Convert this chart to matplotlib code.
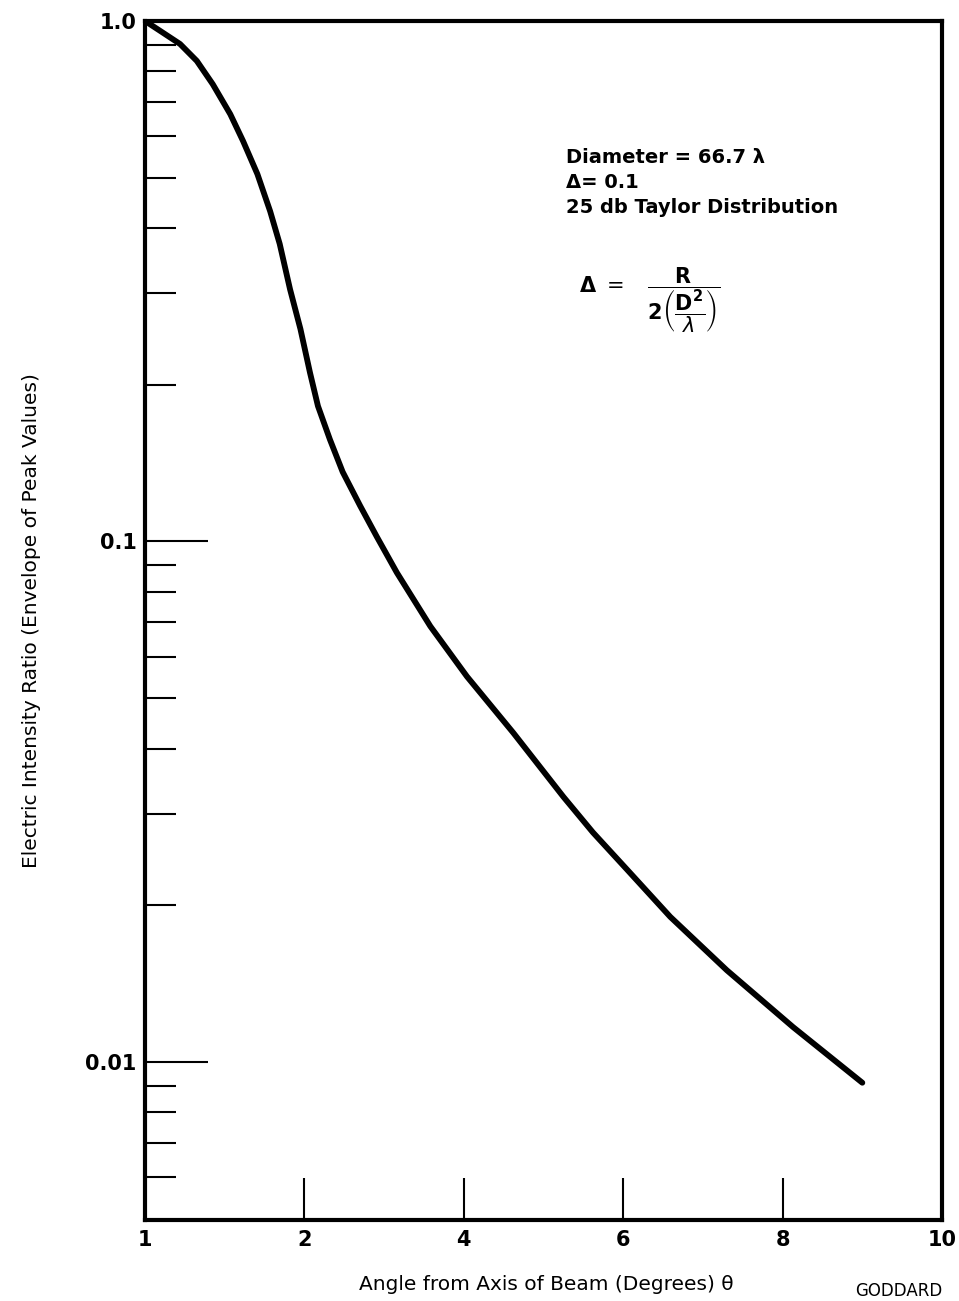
import matplotlib
matplotlib.use('Agg')
import matplotlib.pyplot as plt
from matplotlib.ticker import FixedLocator, NullFormatter

plt.rcParams['font.family'] = ['DejaVu Sans']
plt.rcParams['mathtext.fontset'] = 'dejavusans'

# curve (x in axis position units, labels below are as printed)
angle = [0.0, 0.19, 0.44, 0.65, 0.85, 1.07, 1.23, 1.41, 1.57, 1.69, 1.82, 1.95,
         2.07, 2.17, 2.32, 2.48, 2.70, 2.91, 3.16, 3.58, 4.04, 4.62, 5.25, 5.62,
         6.05, 6.59, 7.30, 8.13, 9.00]
ratio = [1.0, 0.957, 0.903, 0.838, 0.756, 0.662, 0.588, 0.508, 0.431, 0.373,
         0.305, 0.256, 0.211, 0.182, 0.157, 0.136, 0.117, 0.102, 0.0871, 0.0687,
         0.0550, 0.0429, 0.0323, 0.0276, 0.0234, 0.0190, 0.0150, 0.01167, 0.00912]

x_tick_pos = [0, 2, 4, 6, 8, 10]
x_tick_labels = ['1', '2', '4', '6', '8', '10']
y_major = [1.0, 0.1, 0.01]
y_major_labels = ['1.0', '0.1', '0.01']
y_minor = [0.9, 0.8, 0.7, 0.6, 0.5, 0.4, 0.3, 0.2,
           0.09, 0.08, 0.07, 0.06, 0.05, 0.04, 0.03, 0.02,
           0.009, 0.008, 0.007, 0.006]

fig = plt.figure(figsize=(9.59, 13.01), dpi=100)
ax = fig.add_axes([0.1512, 0.0623, 0.8311, 0.9216])

ax.plot(angle, ratio, color='black', lw=4.2, solid_capstyle='round',
        solid_joinstyle='round')

ax.set_yscale('log')
ax.set_xlim(0, 10)
ax.set_ylim(0.00497, 1.0)

for s in ax.spines.values():
    s.set_linewidth(3)

ax.set_xticks(x_tick_pos)
ax.set_xticklabels(x_tick_labels)
ax.yaxis.set_major_locator(FixedLocator(y_major))
ax.set_yticklabels(y_major_labels)
ax.yaxis.set_minor_locator(FixedLocator(y_minor))
ax.yaxis.set_minor_formatter(NullFormatter())
ax.xaxis.set_minor_locator(FixedLocator([]))

ax.tick_params(axis='x', which='major', direction='in', length=30, width=1.5,
               labelsize=15, pad=7, top=False)
ax.tick_params(axis='y', which='major', direction='in', length=45, width=1.5,
               labelsize=15, pad=6, right=False)
ax.tick_params(axis='y', which='minor', direction='in', length=22, width=1.5,
               right=False)
for lab in ax.get_xticklabels() + ax.get_yticklabels():
    lab.set_fontweight('bold')

ax.set_xlabel('Angle from Axis of Beam (Degrees) θ', fontsize=14.5)
ax.xaxis.set_label_coords(0.503, -0.046)
ax.set_ylabel('Electric Intensity Ratio (Envelope of Peak Values)', fontsize=14.5)
ax.yaxis.set_label_coords(-0.131, 0.5)

ax.text(0.528, 0.865, 'Diameter = 66.7 λ\nΔ= 0.1\n25 db Taylor Distribution',
        transform=ax.transAxes, fontsize=14, fontweight='bold', va='center',
        ha='left', linespacing=1.4)
ax.text(0.545, 0.767,
        r'$\mathbf{\Delta}\ =\ \ \ \dfrac{\mathbf{R}}{\mathbf{2}\left(\dfrac{\mathbf{D^2}}{\lambda}\right)}$',
        transform=ax.transAxes, fontsize=15, va='center', ha='left')

fig.text(0.892, 0.001, 'GODDARD', fontsize=12, va='bottom', ha='left')

fig.savefig('out.png', dpi=100)
